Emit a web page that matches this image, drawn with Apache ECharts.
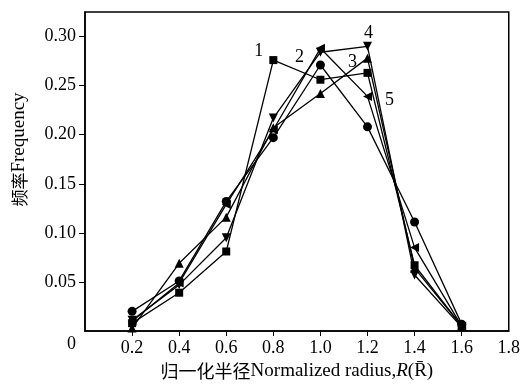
<!DOCTYPE html>
<html>
<head>
<meta charset="utf-8">
<style>
  html, body { margin: 0; padding: 0; background: #fff; }
  #chart { width: 523px; height: 387px; }
</style>
<script src="https://cdn.jsdelivr.net/npm/echarts@6/dist/echarts.min.js"></script>
</head>
<body>
<div id="chart"></div>
<script>
// radius positions (x) shared by every curve
const radius = [0.2, 0.4, 0.6, 0.8, 1.0, 1.2, 1.4, 1.6]

// frequency per curve
const curve1 = [0.008, 0.039, 0.081, 0.276, 0.256, 0.263, 0.067, 0.005]  // square
const curve2 = [0.020, 0.051, 0.132, 0.197, 0.271, 0.208, 0.111, 0.007]  // circle
const curve3 = [0.003, 0.069, 0.116, 0.207, 0.242, 0.278, 0.064, 0.005]  // up triangle
const curve4 = [0.011, 0.047, 0.095, 0.217, 0.284, 0.290, 0.057, 0.004]  // down triangle
const curve5 = [0.010, 0.049, 0.129, 0.205, 0.288, 0.239, 0.085, 0.005]  // left triangle

const curveNames = ['1', '2', '3', '4', '5']
const xTicks = [0.2, 0.4, 0.6, 0.8, 1.0, 1.2, 1.4, 1.6, 1.8]
const yTicks = [0.05, 0.10, 0.15, 0.20, 0.25, 0.30]
const yLabels = [0, 0.05, 0.10, 0.15, 0.20, 0.25, 0.30]

const serif = '"Liberation Serif", "Times New Roman", serif'
const cjk = '"Noto Sans CJK SC", sans-serif'

// marker + where the curve number sits
const styles = [
  { symbol: 'rect', rotate: 0, size: 8, at: 3, pos: 'left', offset: [-1, -9] },
  { symbol: 'circle', rotate: 0, size: 9, at: 4, pos: 'left', offset: [-7, -8] },
  { symbol: 'triangle', rotate: 0, size: 9, at: 5, pos: 'left', offset: [-1, 4] },
  { symbol: 'triangle', rotate: 180, size: 9, at: 5, pos: 'top', offset: [1, 5] },
  { symbol: 'triangle', rotate: 90, size: 9, at: 5, pos: 'right', offset: [8, 4] }
]

const curves = [curve1, curve2, curve3, curve4, curve5]

const chart = echarts.init(document.getElementById('chart'))

chart.setOption({
  backgroundColor: '#fff',
  animation: false,
  grid: {
    left: 85, right: 7, top: 12, bottom: 56,
    show: true, borderColor: '#000', borderWidth: 1.5
  },
  xAxis: {
    type: 'value',
    min: 0, max: 1.8, interval: 0.2,
    splitLine: { show: false },
    axisLine: { lineStyle: { color: '#000', width: 1.5 } },
    axisTick: { length: 5, lineStyle: { color: '#000' }, customValues: xTicks.slice(0, 8) },
    axisLabel: {
      customValues: xTicks,
      color: '#000', fontFamily: serif, fontSize: 18, margin: 8,
      formatter: v => v.toFixed(1)
    },
    name: '{cn|归一化半径}{en|Normalized radius,}{it|R}{en|(R\u0304)}',
    nameLocation: 'middle',
    nameGap: 28,
    nameTextStyle: {
      rich: {
        cn: { fontFamily: cjk, fontSize: 18, color: '#000' },
        en: { fontFamily: serif, fontSize: 19, color: '#000' },
        it: { fontFamily: serif, fontSize: 19, fontStyle: 'italic', color: '#000' }
      }
    }
  },
  yAxis: {
    type: 'value',
    min: 0, max: 0.325,
    splitLine: { show: false },
    axisLine: { lineStyle: { color: '#000', width: 1.5 } },
    axisTick: { length: 6, lineStyle: { color: '#000' }, customValues: yTicks },
    axisLabel: {
      customValues: yLabels,
      color: '#000', fontFamily: serif, fontSize: 18, margin: 9,
      formatter: v => (v === 0 ? '{z|0}' : v.toFixed(2)),
      rich: { z: { fontFamily: serif, fontSize: 18, color: '#000', padding: [26, 0, 0, 0] } }
    },
    name: '{cn|频率}{en|Frequency}',
    nameLocation: 'middle',
    nameGap: 56,
    nameRotate: 90,
    nameTextStyle: {
      padding: [0, 0, 0, 44],
      rich: {
        cn: { fontFamily: cjk, fontSize: 17, color: '#000' },
        en: { fontFamily: serif, fontSize: 19, color: '#000' }
      }
    }
  },
  series: curves.map((vals, i) => {
    const s = styles[i]
    return {
      name: curveNames[i],
      type: 'line',
      symbol: s.symbol,
      symbolRotate: s.rotate,
      symbolSize: s.size,
      showAllSymbol: true,
      lineStyle: { color: '#000', width: 1.3 },
      itemStyle: { color: '#000' },
      data: vals.map((v, j) => {
        const item = { value: [radius[j], v] }
        if (j === s.at) {
          item.label = {
            show: true, formatter: curveNames[i], position: s.pos, offset: s.offset,
            fontFamily: serif, fontSize: 18, color: '#000'
          }
        }
        return item
      })
    }
  })
})

window.addEventListener('resize', () => chart.resize())
</script>
</body>
</html>
